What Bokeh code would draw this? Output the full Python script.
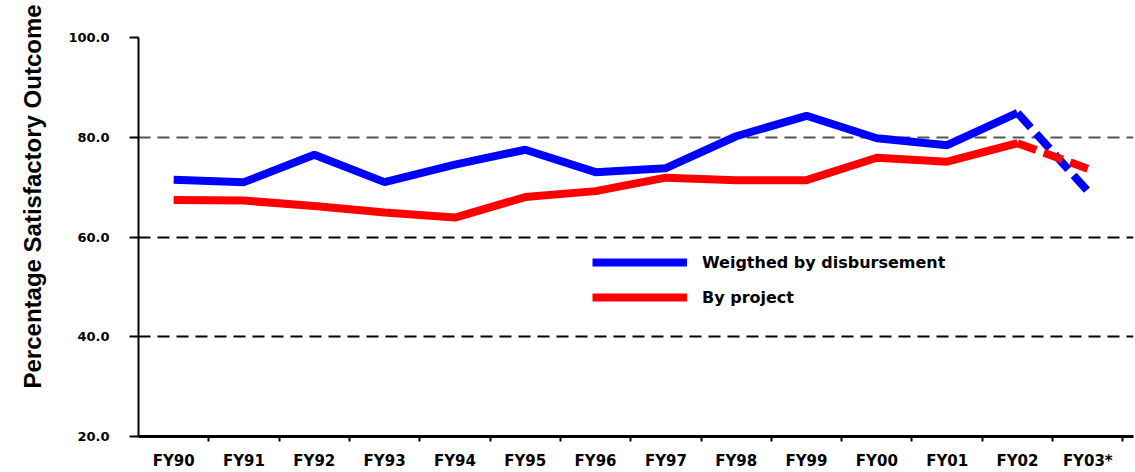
import math
from bokeh.plotting import figure
from bokeh.models import (Range1d, FixedTicker, LinearAxis, Grid, Legend,
                          LegendItem, Title, ColumnDataSource)
from bokeh.embed import file_html
from bokeh.resources import INLINE

categories = ["FY90", "FY91", "FY92", "FY93", "FY94", "FY95", "FY96",
              "FY97", "FY98", "FY99", "FY00", "FY01", "FY02", "FY03*"]
weighted = [71.5, 71.0, 76.5, 71.0, 74.5, 77.5, 73.0,
            73.8, 80.2, 84.3, 79.8, 78.4, 84.9, 69.2]
by_project = [67.4, 67.3, 66.2, 64.9, 63.9, 68.0, 69.2,
              71.9, 71.4, 71.4, 75.9, 75.1, 78.8, 73.7]
y_ticks = [20, 40, 60, 80, 100]
y_title = "Percentage Satisfactory Outcome"
labels = ["Weigthed by disbursement", "By project"]

xpos = [i + 0.5 for i in range(len(categories))]
n_solid = len(categories) - 1

p = figure(width=1135, height=472, output_backend="svg", toolbar_location=None,
           x_range=Range1d(0, 14.15), y_range=Range1d(20, 100),
           x_axis_type=None, y_axis_type=None,
           min_border_left=136, min_border_right=2,
           min_border_top=37, min_border_bottom=36)
p.outline_line_color = None
p.background_fill_color = "white"

# grids
g1 = Grid(dimension=1, ticker=FixedTicker(ticks=[40, 60]),
          grid_line_color="black", grid_line_dash="12 7", grid_line_width=2)
g2 = Grid(dimension=1, ticker=FixedTicker(ticks=[80]),
          grid_line_color="#555555", grid_line_dash="12 7", grid_line_width=2)
p.add_layout(g1)
p.add_layout(g2)

# y axis
yaxis = LinearAxis(ticker=FixedTicker(ticks=y_ticks),
                   major_label_overrides={t: f"{t:.1f}" for t in y_ticks})
yaxis.axis_line_width = 2
yaxis.major_tick_out = 9
yaxis.major_tick_in = 0
yaxis.major_tick_line_width = 2
yaxis.minor_tick_line_color = None
yaxis.major_label_standoff = 20
yaxis.major_label_text_font = "DejaVu Sans"
yaxis.major_label_text_font_style = "bold"
yaxis.major_label_text_font_size = "13px"
yaxis.major_label_text_color = "black"
p.add_layout(yaxis, "left")

# y title
ttl = Title(text=y_title, align="left", offset=48, standoff=36,
            vertical_align="top",
            text_font="Liberation Sans", text_font_style="bold",
            text_font_size="24px", text_color="black")
p.add_layout(ttl, "left")

# x axis
xaxis = LinearAxis(ticker=FixedTicker(ticks=xpos, minor_ticks=list(range(1, 15))),
                   major_label_overrides={x: c for x, c in zip(xpos, categories)})
xaxis.axis_line_width = 3
xaxis.major_tick_line_color = None
xaxis.major_tick_out = 0
xaxis.major_tick_in = 0
xaxis.minor_tick_out = 5
xaxis.minor_tick_in = 0
xaxis.minor_tick_line_width = 2
xaxis.major_label_standoff = 10
xaxis.major_label_text_font = "DejaVu Sans"
xaxis.major_label_text_font_style = "bold"
xaxis.major_label_text_font_size = "15px"
xaxis.major_label_text_color = "black"
p.add_layout(xaxis, "below")

# lines
src_b = ColumnDataSource(dict(x=xpos[:n_solid], y=weighted[:n_solid]))
src_r = ColumnDataSource(dict(x=xpos[:n_solid], y=by_project[:n_solid]))
src_bd = ColumnDataSource(dict(x=xpos[n_solid - 1:], y=weighted[n_solid - 1:]))
src_rd = ColumnDataSource(dict(x=xpos[n_solid - 1:], y=by_project[n_solid - 1:]))

rb = p.line("x", "y", source=src_b, line_color="#0000ff", line_width=8)
rr = p.line("x", "y", source=src_r, line_color="#ff0000", line_width=8)
p.line("x", "y", source=src_bd, line_color="#0000ff", line_width=8, line_dash="20 8")
p.line("x", "y", source=src_rd, line_color="#ff0000", line_width=8, line_dash="20 8")

legend = Legend(items=[LegendItem(label=labels[0], renderers=[rb]),
                       LegendItem(label=labels[1], renderers=[rr])],
                location=(454, 124), glyph_width=95, glyph_height=30,
                spacing=5, padding=0, margin=0, border_line_color=None,
                background_fill_alpha=0, label_standoff=15,
                label_text_font="DejaVu Sans", label_text_font_style="bold",
                label_text_font_size="16px", label_text_color="black")
p.add_layout(legend)

open("out.html", "w").write(file_html(p, INLINE))
